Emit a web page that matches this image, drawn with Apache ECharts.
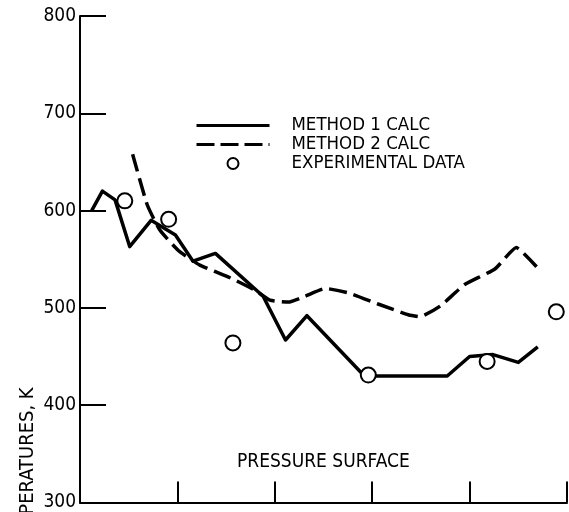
<!DOCTYPE html>
<html>
<head>
<meta charset="utf-8">
<script src="https://cdn.jsdelivr.net/npm/echarts@6/dist/echarts.min.js"></script>
<style>
html,body{margin:0;padding:0;background:#fff;}
#chart{width:569px;height:512px;}
</style>
</head>
<body>
<div id="chart"></div>
<script>
// ---- data ----
const yTicks = [300, 400, 500, 600, 700, 800];
const m1X = [0.12, 0.23, 0.36, 0.51, 0.73, 0.98, 1.16, 1.39, 1.88, 2.11, 2.33, 2.92, 3.77, 4.00, 4.24, 4.50, 4.70];
const m1Y = [600, 620, 611, 563, 590, 575, 548, 556, 512, 467, 492, 430, 430, 450, 452, 444, 460];
const m2X = [0.54, 0.69, 0.82, 1.01, 1.23, 1.54, 1.80, 1.95, 2.14, 2.31, 2.52, 2.77, 3.06, 3.37, 3.49, 3.70, 3.95, 4.26, 4.48, 4.69];
const m2Y = [658, 606, 580, 559, 544, 531, 518, 508, 506, 512, 520, 515, 504, 493, 491, 502, 524, 540, 562, 542];
const expX = [0.46, 0.91, 1.57, 2.96, 4.18, 4.89];
const expY = [610, 591, 464, 431, 445, 496];
const seriesNames = ['METHOD 1 CALC', 'METHOD 2 CALC', 'EXPERIMENTAL DATA'];
const xAxisTitle = 'PRESSURE SURFACE';
const yAxisTitle = 'PERATURES, K';

const FONT = '"DejaVu Sans Condensed", "Liberation Sans Narrow", "Liberation Sans", sans-serif';
const zip = (a, b) => a.map((v, i) => [v, b[i]]);

const chart = echarts.init(document.getElementById('chart'), null, {renderer: 'canvas'});
chart.setOption({
  animation: false,
  backgroundColor: '#fff',
  grid: {left: 80, right: 2, top: 16, bottom: 9, containLabel: false},
  xAxis: {
    type: 'value', min: 0, max: 5, interval: 1,
    axisLine: {show: true, lineStyle: {color: '#000', width: 2}},
    axisTick: {show: true, inside: true, length: 21, lineStyle: {color: '#000', width: 2}},
    axisLabel: {show: false},
    splitLine: {show: false}
  },
  yAxis: {
    type: 'value', min: yTicks[0], max: yTicks[yTicks.length - 1], interval: 100,
    axisLine: {show: true, lineStyle: {color: '#000', width: 2}},
    axisTick: {show: true, inside: true, length: 26, lineStyle: {color: '#000', width: 2}},
    axisLabel: {color: '#000', fontSize: 19, fontFamily: FONT, margin: 4},
    splitLine: {show: false}
  },
  legend: {
    data: [
      {name: seriesNames[0], itemStyle: {opacity: 0}, lineStyle: {color: '#000', width: 3}},
      {name: seriesNames[1], itemStyle: {opacity: 0}, lineStyle: {color: '#000', width: 3, type: [18, 6]}},
      {name: seriesNames[2], itemStyle: {color: '#fff', borderColor: '#000', borderWidth: 2}}
    ],
    orient: 'vertical',
    left: 195, top: 116, padding: 0,
    itemWidth: 73, itemHeight: 11, itemGap: 0,
    textStyle: {color: '#000', fontSize: 18.5, lineHeight: 19, fontFamily: FONT, padding: [0, 0, 0, 17]}
  },
  graphic: [
    {type: 'text', left: 237, top: 453,
     style: {text: xAxisTitle, fill: '#000', font: '19px ' + FONT}},
    {type: 'text', x: 28, y: 451, rotation: Math.PI / 2,
     style: {text: yAxisTitle, fill: '#000', font: '20px ' + FONT, align: 'center', verticalAlign: 'middle'}}
  ],
  series: [
    {
      name: seriesNames[0], type: 'line', data: zip(m1X, m1Y),
      symbol: 'none', lineStyle: {color: '#000', width: 3.5, join: 'round'}, itemStyle: {color: '#000'}, z: 2
    },
    {
      name: seriesNames[1], type: 'line', data: zip(m2X, m2Y), smooth: 0.15,
      symbol: 'none', lineStyle: {color: '#000', width: 3.5, type: [18, 7]}, itemStyle: {color: '#000'}, z: 2
    },
    {
      name: seriesNames[2], type: 'scatter', data: zip(expX, expY),
      symbol: 'circle', symbolSize: 15,
      itemStyle: {color: '#fff', borderColor: '#000', borderWidth: 2, opacity: 1}, z: 5
    }
  ]
});
</script>
</body>
</html>
